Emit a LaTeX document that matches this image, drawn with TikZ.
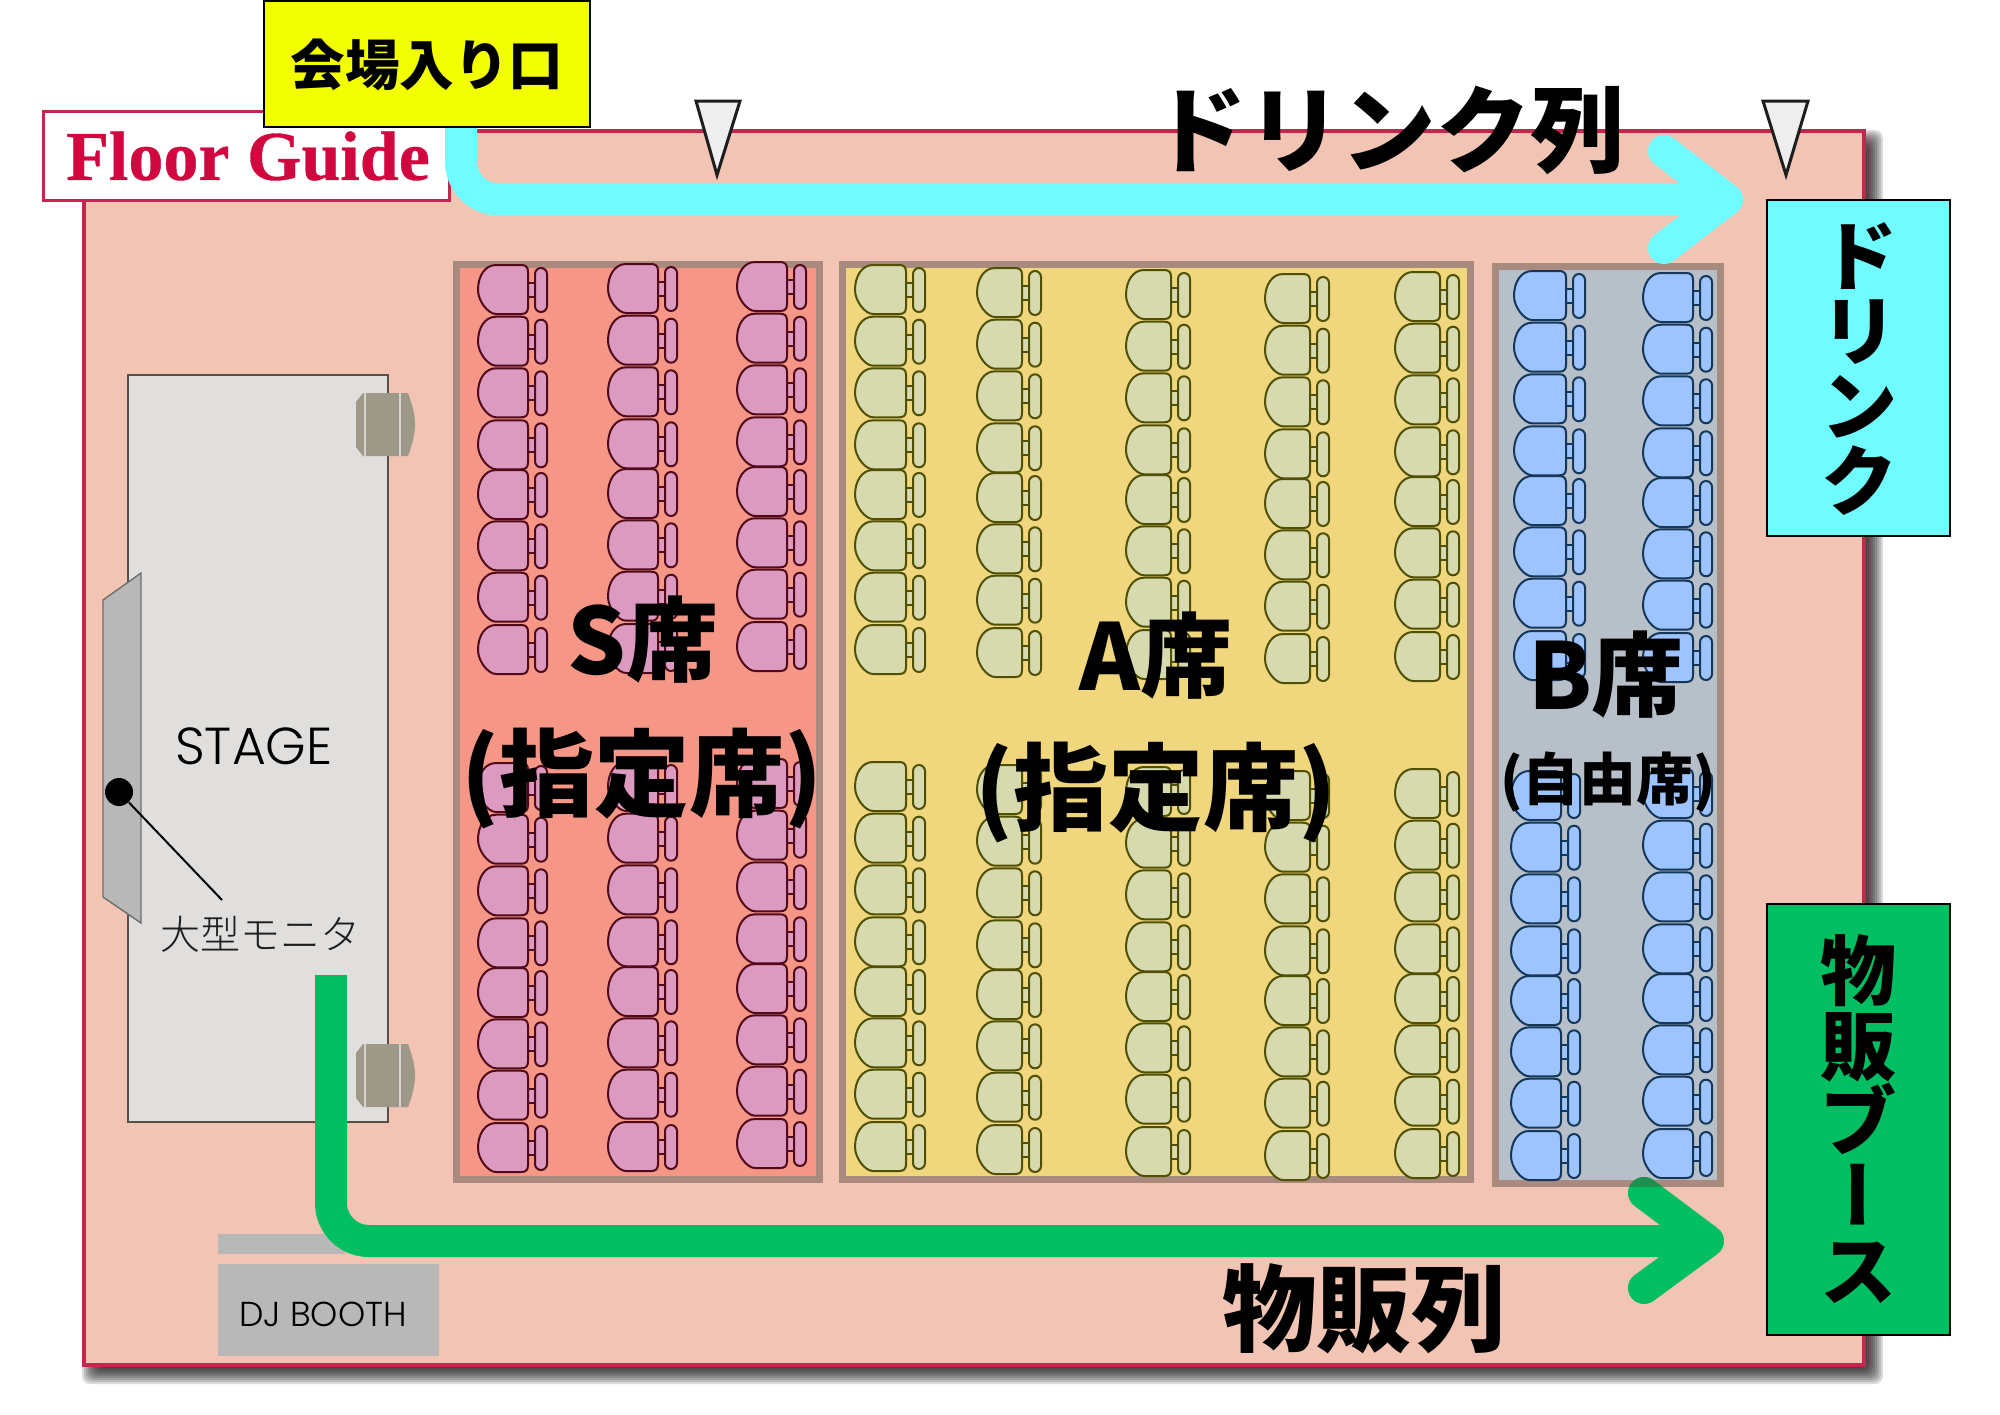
\documentclass[tikz,border=0pt]{standalone}
\usepackage{fontspec}
\setmainfont{Liberation Serif}
\newfontfamily\jp{Noto Sans CJK JP}
\newfontfamily\jplight{Noto Sans CJK JP Light}
\newfontfamily\geo{Poppins Light}
\newfontfamily\guidefont[FakeBold=0.5]{Liberation Serif Bold}
\usetikzlibrary{calc}
\newcommand{\tallstack}{\jp\bfseries\fontsize{38}{37.5}\selectfont\lineskiplimit-60pt\relax}
\definecolor{floorfill}{HTML}{F1C4B3}
\definecolor{floorline}{HTML}{C5264F}
\definecolor{guidered}{HTML}{D1083F}
\definecolor{cyanflow}{HTML}{6FFBFF}
\definecolor{greenflow}{HTML}{00BF63}
\definecolor{greendark}{HTML}{1F8F50}
\definecolor{sectline}{HTML}{A98A7E}
\definecolor{stagefill}{HTML}{E0DFDD}
\definecolor{booth}{HTML}{B7B8B7}
\definecolor{speaker}{HTML}{9E9888}
\tikzset{
  chairS/.style={draw={rgb,255:red,80;green,10;blue,25},fill={rgb,255:red,220;green,154;blue,192},line width=1pt},
  chairA/.style={draw={rgb,255:red,80;green,80;blue,5},fill={rgb,255:red,214;green,218;blue,174},line width=1pt},
  chairB/.style={draw={rgb,255:red,20;green,55;blue,90},fill={rgb,255:red,158;green,196;blue,255},line width=1pt},
  sect/.style={draw=sectline,line width=3.5pt},
  flow/.style={line width=16pt,line cap=round,line join=round},
  infobox/.style={draw=black,line width=.8pt,inner sep=0pt,align=center},
  biglabel/.style={inner sep=0pt,font=\jp\bfseries\fontsize{46}{46}\selectfont},
  parenlabel/.style={inner sep=0pt,font=\jp\bfseries\fontsize{47.6}{46}\selectfont},
  arrowlabel/.style={inner sep=0pt,font=\jp\bfseries\fontsize{47.3}{46}\selectfont},
  doortri/.style={draw={rgb,255:red,30;green,30;blue,30},fill={rgb,255:red,238;green,238;blue,238},line width=1.5pt,line join=miter},
}
\newcommand{\chairat}[4]{%
  \begin{scope}[shift={(#1,#2)},#4]
    \path[draw,fill] (#3,18) rectangle (#3+7,32);
    \path[draw,fill,rounded corners=3pt] (#3+7,3) rectangle (#3+19,47);
    \path[draw,fill] (18,0) -- (#3-7,0) .. controls (#3-2,0) and (#3,2) .. (#3,7)
      -- (#3,42) .. controls (#3,47) and (#3-2,49) .. (#3-7,49) -- (18,49)
      .. controls (10,49) and (0,36) .. (0,25)
      .. controls (0,11) and (7,0) .. (18,0) -- cycle;
  \end{scope}}
\newcommand{\chaircol}[4]{%
  \foreach \d in {0,51.7,103.3,155.3,205,256.3,307.7,360}{%
    \pgfmathsetmacro{\yy}{#2+\d}%
    \chairat{#1}{\yy}{#3}{#4}}}
\newcommand{\speakerat}[2]{%
  \begin{scope}[shift={(#1,#2)}]
    \fill[speaker] (0,9) -- (7,0) -- (52,0) .. controls (57,14) and (59,22) .. (59,31)
      .. controls (59,40) and (57,50) .. (52,63) -- (7,63) -- (0,54) -- cycle;
    \draw[stagefill!85!speaker,line width=.8pt] (9,0) -- (9,63) (44,0) -- (44,63);
  \end{scope}}
\begin{document}
\begin{tikzpicture}[x=0.5pt,y=-0.5pt]
\useasboundingbox (0,0) rectangle (2000,1414);
% shadow
\foreach \e in {-10,-8,...,10}{
  \fill[black,opacity=.14,rounded corners=4pt] (92-\e,140-\e) rectangle (1873+\e,1374+\e);
}
% floor
\path[draw=floorline,fill=floorfill,line width=1.6pt] (84,131) rectangle (1864,1365);
\node[draw=floorline,fill=white,line width=1.5pt,minimum width=203pt,minimum height=44.5pt,inner sep=0pt] (guide) at (246.5,155.5) {};
\node[inner sep=0pt,text=guidered,font=\guidefont\fontsize{35}{36}\selectfont] (guidetext) at (248,156) {Floor Guide};
% stage
\path[draw={rgb,255:red,90;green,78;blue,70},fill=stagefill,line width=.8pt] (128,375) rectangle (388,1122);
\speakerat{356}{393}
\speakerat{356}{1044}
\path[draw={rgb,255:red,110;green,110;blue,110},fill=booth,line width=.7pt] (141,573) -- (103,600) -- (103,897) -- (141,923) -- cycle;
\node[circle,fill=black,minimum size=14pt,inner sep=0pt] (dot) at (119,792) {};
\coordinate (leaderend) at (222,900);
\draw[black,line width=1pt] (dot) -- (leaderend);
\node[inner sep=0pt,text=black,font=\geo\fontsize{26}{26}\selectfont] (stagetext) at (254,746) {STAGE};
\node[inner sep=0pt,text={rgb,255:red,30;green,30;blue,30},font=\jplight\fontsize{20}{20}\selectfont] (monitor) at (260,934) {大型モニタ};
% DJ booth
\fill[booth] (218,1234) rectangle (345,1254);
\node[fill=booth,minimum width=110.5pt,minimum height=46pt,inner sep=0pt] (dj) at (328.5,1310) {};
\node[inner sep=0pt,text=black,font=\geo\fontsize{17.3}{18}\selectfont] (djtext) at (323,1314) {DJ BOOTH};
% sections
\path[sect,fill={rgb,255:red,245;green,150;blue,134}] (456,264) rectangle (819,1179);
\path[sect,fill={rgb,255:red,240;green,214;blue,124}] (842,264) rectangle (1470,1179);
\path[sect,fill={rgb,255:red,183;green,191;blue,201}] (1495,266) rectangle (1720,1183);
% chairs S
\chaircol{478}{265}{50}{chairS}
\chaircol{608}{264}{50}{chairS}
\chaircol{737}{262}{50}{chairS}
\chaircol{478}{763}{50}{chairS}
\chaircol{608}{762}{50}{chairS}
\chaircol{737}{759}{50}{chairS}
% chairs A
\chaircol{855}{265}{51}{chairA}
\chaircol{977}{268}{45}{chairA}
\chaircol{1126}{270}{45}{chairA}
\chaircol{1265}{274}{45}{chairA}
\chaircol{1395}{272}{45}{chairA}
\chaircol{855}{762}{51}{chairA}
\chaircol{977}{765}{45}{chairA}
\chaircol{1126}{767}{45}{chairA}
\chaircol{1265}{771}{45}{chairA}
\chaircol{1395}{769}{45}{chairA}
% chairs B
\chaircol{1514}{271}{52}{chairB}
\chaircol{1643}{273}{50}{chairB}
\chaircol{1511}{771}{50}{chairB}
\chaircol{1643}{769}{50}{chairB}
% flow coordinates
\coordinate (c0) at (461,120);
\coordinate (c1) at (461,199.5);
\coordinate (ctip) at (1727,199.5);
\coordinate (cu) at (1664,151);
\coordinate (cd) at (1664,248);
\coordinate (g0) at (331,975);
\coordinate (g1) at (331,1241);
\coordinate (gtip) at (1708,1241);
\coordinate (gu) at (1644,1193);
\coordinate (gd) at (1644,1288);
% flows
\draw[flow,cyanflow,line cap=butt,rounded corners=19pt] (c0) -- (c1) -- (ctip);
\draw[flow,cyanflow] (cu) -- (ctip) -- (cd);
\draw[flow,greenflow,line cap=butt,rounded corners=19pt] (g0) -- (g1) -- (gtip);
\draw[flow,greenflow] (gu) -- (gtip) -- (gd);
\begin{scope}
  \clip (1600,1170) rectangle (1723,1186);
  \draw[flow,greendark] (gu) -- (gtip);
\end{scope}
% entrance
\node[infobox,fill={rgb,255:red,242;green,255;blue,0},minimum width=163pt,minimum height=63pt] (entrance) at (427,64) {};
\node[inner sep=0pt,font=\jp\bfseries\fontsize{27.3}{27}\selectfont] (entrancetext) at (427,65) {会場入り口};
% doors
\path[doortri] (696,101) -- (740,101) -- (717,175) -- cycle;
\path[doortri] (1763,101) -- (1808,101) -- (1786,175) -- cycle;
% right boxes
\node[infobox,fill=cyanflow,minimum width=91.5pt,minimum height=168pt] (drinkbox) at (1858.5,368) {};
\node[inner sep=0pt,align=center,font=\tallstack] (drinktext) at (1859,369) {ド\\リ\\ン\\ク};
\node[infobox,fill=greenflow,minimum width=91.5pt,minimum height=215.5pt] (goodsbox) at (1858.5,1119.5) {};
\node[inner sep=0pt,align=center,font=\tallstack] (goodstext) at (1858,1119) {物\\販\\ブ\\{\addfontfeature{RawFeature=+vert}ー}\\ス};
% labels
\node[arrowlabel] (drinkrow) at (1389,130) {ドリンク列};
\node[arrowlabel] (goodsrow) at (1364,1309) {物販列};
\node[biglabel] (s1) at (643,640) {S席};
\node[parenlabel] (s2) at (642,778) {(指定席)};
\node[biglabel] (a1) at (1156,656) {A席};
\node[parenlabel] (a2) at (1156,792) {(指定席)};
\node[biglabel] (b1) at (1606,675) {B席};
\node[parenlabel,font=\jp\bfseries\fontsize{28.4}{28}\selectfont] (b2) at (1608,782) {(自由席)};
\end{tikzpicture}
\end{document}
